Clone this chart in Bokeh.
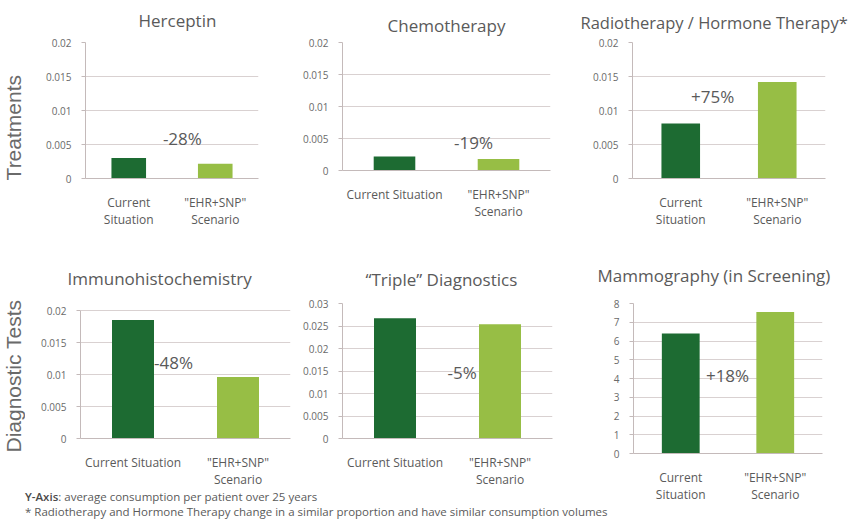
from bokeh.plotting import figure
from bokeh.models import Label, FixedTicker, Div, ColumnDataSource, Range1d, Title
from bokeh.layouts import row, column
from bokeh.embed import file_html
from bokeh.resources import INLINE

# ---------------- data ----------------
titles = ["Herceptin", "Chemotherapy", "Radiotherapy / Hormone Therapy*",
          "Immunohistochemistry", "\u201cTriple\u201d Diagnostics", "Mammography (in Screening)"]

current_values = [0.0030, 0.0022, 0.0081, 0.0185, 0.0267, 6.40]
scenario_values = [0.00216, 0.00178, 0.0142, 0.0096, 0.0254, 7.55]
change_labels = ["-28%", "-19%", "+75%", "-48%", "-5%", "+18%"]

cat_current_two = "Current\nSituation"
cat_current_one = "Current Situation"
cat_scenario = "\"EHR+SNP\"\nScenario"
panel_categories = [
    [cat_current_two, cat_scenario],
    [cat_current_one, cat_scenario],
    [cat_current_two, cat_scenario],
    [cat_current_one, cat_scenario],
    [cat_current_one, cat_scenario],
    [cat_current_two, cat_scenario],
]

ticks_small = [0, 0.005, 0.01, 0.015, 0.02]
tick_labels_small = ["0", "0.005", "0.01", "0.015", "0.02"]
ticks_triple = [0, 0.005, 0.01, 0.015, 0.02, 0.025, 0.03]
tick_labels_triple = ["0", "0.005", "0.01", "0.015", "0.02", "0.025", "0.03"]
ticks_mammo = [0, 1, 2, 3, 4, 5, 6, 7, 8]
tick_labels_mammo = ["0", "1", "2", "3", "4", "5", "6", "7", "8"]

panel_ticks = [ticks_small, ticks_small, ticks_small, ticks_small, ticks_triple, ticks_mammo]
panel_tick_labels = [tick_labels_small, tick_labels_small, tick_labels_small,
                     tick_labels_small, tick_labels_triple, tick_labels_mammo]

row_labels = ["Treatments", "Diagnostic Tests"]
footer_axis_note = "average consumption per patient over 25 years"
footer_star_note = ("* Radiotherapy and Hormone Therapy change in a similar proportion "
                    "and have similar consumption volumes")

# ---------------- styles / layout ----------------
DARK = "#1d6b32"
LIGHT = "#97be45"
TEXT = "#5a5a5a"
TICK = "#6a6a6a"
GRID = "#d9d1d1"
AXIS = "#c4baba"
FONT = "Open Sans"

# (border_left, frame_width, border_right, border_top, frame_height, border_bottom, gap above top tick)
geom = [
    (59, 173, 42, 42, 136, 62, 0),
    (42, 208, 25, 42, 128, 70, 0),
    (57, 193, 26, 42, 136, 62, 0),
    (54, 210, 10, 63, 135, 50, 7),
    (42, 210, 23, 63, 135, 50, 0),
    (58, 189, 29, 63, 150, 49, 0),
]
title_sizes = ["17px", "17px", "16.5px", "17px", "17px", "17px"]
title_left_offset = [53, 45, -52, -13, 23, -36]
title_valign = ["top", "top", "top", "bottom", "bottom", "bottom"]
title_standoff = [16.5, 6.8, 11.5, 26.8, 24.8, 32.8]
# change-label position (x in category units, y as fraction of top tick)
label_pos = [(1.12, 0.295), (1.26, 0.22), (0.83, 0.60), (0.886, 0.595), (1.14, 0.49), (0.995, 0.52)]


def make_panel(i):
    bl, fw, br, bt, fh, bb, gap = geom[i]
    ticks = panel_ticks[i]
    ymax = ticks[-1]
    yend = ymax * fh / (fh - gap)
    cats = panel_categories[i]
    p = figure(x_range=cats, y_range=Range1d(0, yend),
               frame_width=fw, frame_height=fh,
               min_border_left=bl, min_border_right=br,
               min_border_top=bt, min_border_bottom=bb,
               output_backend="svg", toolbar_location=None)
    p.outline_line_color = None
    p.background_fill_color = "white"
    p.border_fill_color = "white"

    src = ColumnDataSource(dict(x=cats, top=[current_values[i], scenario_values[i]],
                                color=[DARK, LIGHT]))
    p.vbar(x="x", top="top", width=0.4, color="color", line_color=None, source=src)

    p.title = Title(text=titles[i], align="left", offset=title_left_offset[i],
                    vertical_align=title_valign[i],
                    standoff=title_standoff[i], text_font=FONT,
                    text_font_size=title_sizes[i], text_font_style="normal",
                    text_color=TEXT)

    p.xgrid.grid_line_color = None
    p.ygrid.grid_line_color = GRID
    p.ygrid.grid_line_width = 1

    ya = p.yaxis[0]
    ya.ticker = FixedTicker(ticks=ticks)
    ya.bounds = (0, ymax)
    ya.major_label_overrides = {t: lab for t, lab in zip(ticks, panel_tick_labels[i])}
    ya.axis_line_color = AXIS
    ya.major_tick_line_color = AXIS
    ya.major_tick_out = 4
    ya.major_tick_in = 0
    ya.minor_tick_line_color = None
    ya.major_label_standoff = 10
    ya.major_label_text_font = FONT
    ya.major_label_text_font_size = "10px"
    ya.major_label_text_color = TICK

    xa = p.xaxis[0]
    xa.axis_line_color = AXIS
    xa.major_tick_line_color = None
    xa.major_tick_out = 0
    xa.major_tick_in = 0
    xa.minor_tick_line_color = None
    xa.major_label_standoff = 15
    xa.major_label_text_font = FONT
    xa.major_label_text_font_size = "12px"
    xa.major_label_text_color = TEXT
    xa.major_label_text_line_height = 1.0

    lx, ly = label_pos[i]
    p.add_layout(Label(x=lx, y=ly * ymax, text=change_labels[i], text_align="center",
                       text_baseline="middle", text_font=FONT, text_font_size="17px",
                       text_color=TEXT))
    return p


panels = [make_panel(i) for i in range(6)]


def row_label(text, top, height):
    html = ('<div style="writing-mode:vertical-rl;transform:rotate(180deg);'
            'font-family:\'Liberation Sans\';font-size:21px;line-height:26px;'
            'color:%s;white-space:nowrap;margin-top:%dpx;margin-left:1px;">%s</div>'
            % (TICK, top, text))
    return Div(text=html, width=26, height=height, margin=(0, 0, 0, 0))


label1 = row_label(row_labels[0], 75, 240)
label2 = row_label(row_labels[1], 60, 248)

div_style = {"font-family": FONT, "font-size": "11.5px", "color": TEXT,
             "line-height": "13px", "padding-left": "25px", "white-space": "nowrap"}
div1 = Div(text='<span style="font-weight:600;color:#4a4a4a">Y-Axis</span>: ' + footer_axis_note,
           width=575, height=14, margin=(0, 0, 0, 0), styles=div_style)
div2 = Div(text=footer_star_note, width=851, height=22, margin=(0, 0, 0, 0), styles=div_style)

layout = column(
    row(label1, panels[0], panels[1], panels[2], spacing=0),
    row(column(row(label2, panels[3], panels[4], spacing=0), div1, spacing=0),
        panels[5], spacing=0),
    div2,
    spacing=0,
)

open("out.html", "w").write(file_html(layout, INLINE))
